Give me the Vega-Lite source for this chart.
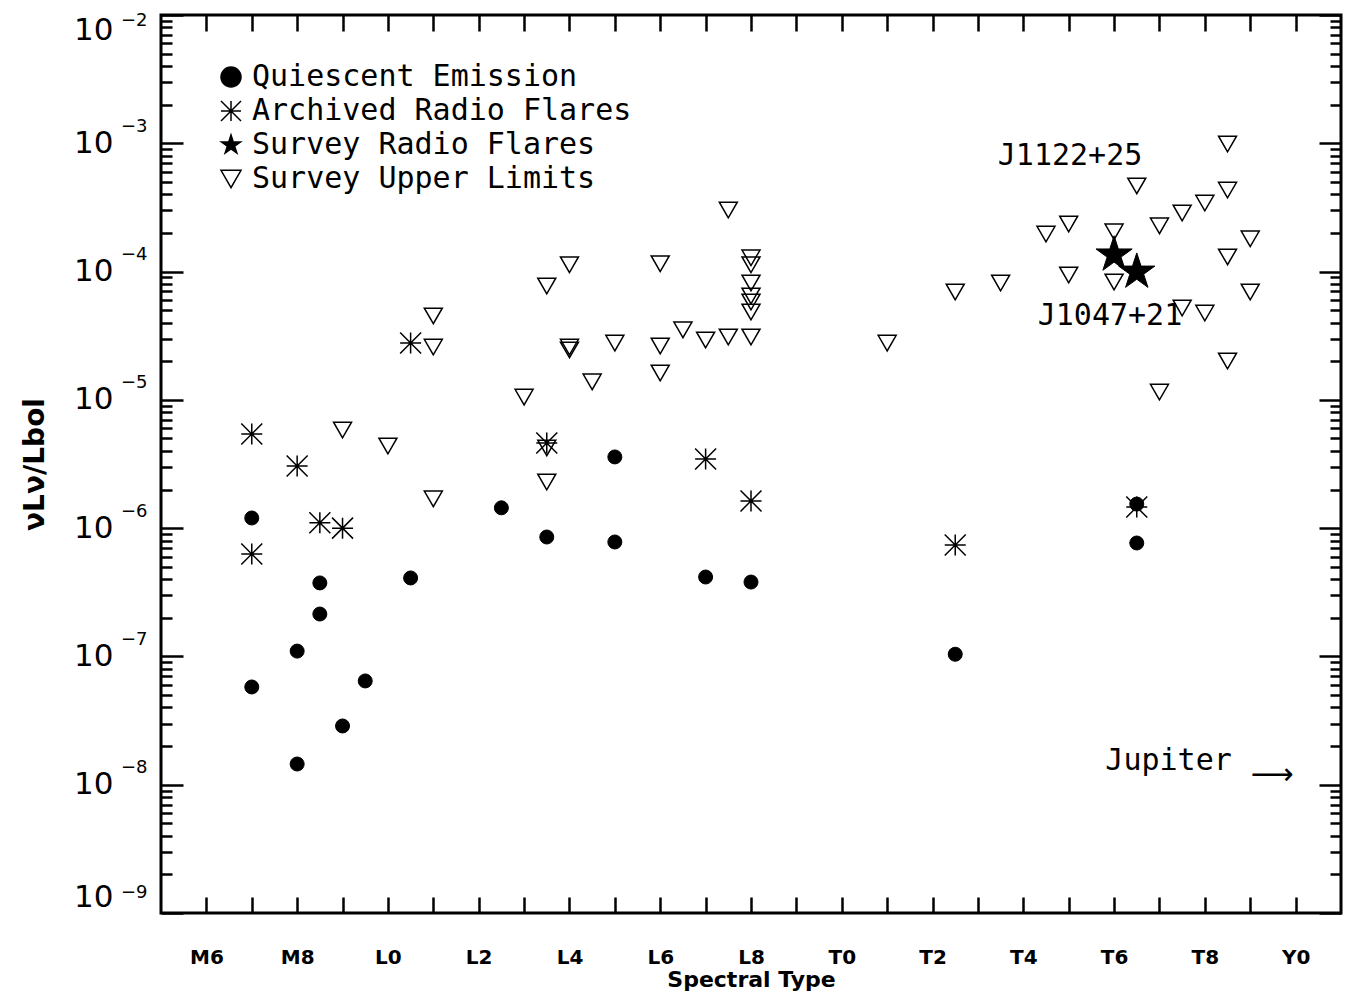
{
  "$schema": "https://vega.github.io/schema/vega-lite/v6.json",
  "width": 1180,
  "height": 898,
  "autosize": "none",
  "padding": {"left": 161, "top": 15, "right": 15, "bottom": 93},
  "background": "white",
  "config": {
    "view": {"stroke": "black", "strokeWidth": 3},
    "axis": {"domain": false, "grid": false, "tickColor": "black", "labelColor": "black", "titleColor": "black"},
    "legend": {"symbolStrokeColor": "black", "symbolStrokeWidth": 1.5, "symbolSize": 400, "labelFont": "DejaVu Sans Mono", "labelFontSize": 30, "labelColor": "black", "labelOffset": 6, "rowPadding": 4, "padding": 0, "labelLimit": 0}
  },
  "datasets": {
    "ul": [
      {"t": "Survey Upper Limits", "s": 9, "v": 5.82e-6},
      {"t": "Survey Upper Limits", "s": 10, "v": 4.37e-6},
      {"t": "Survey Upper Limits", "s": 11, "v": 4.51e-5},
      {"t": "Survey Upper Limits", "s": 11, "v": 2.58e-5},
      {"t": "Survey Upper Limits", "s": 11, "v": 1.69e-6},
      {"t": "Survey Upper Limits", "s": 13, "v": 1.05e-5},
      {"t": "Survey Upper Limits", "s": 13.5, "v": 7.72e-5},
      {"t": "Survey Upper Limits", "s": 13.5, "v": 4.22e-6},
      {"t": "Survey Upper Limits", "s": 13.5, "v": 2.29e-6},
      {"t": "Survey Upper Limits", "s": 14, "v": 1.13e-4},
      {"t": "Survey Upper Limits", "s": 14, "v": 2.58e-5},
      {"t": "Survey Upper Limits", "s": 14, "v": 2.45e-5},
      {"t": "Survey Upper Limits", "s": 14.5, "v": 1.38e-5},
      {"t": "Survey Upper Limits", "s": 15, "v": 2.77e-5},
      {"t": "Survey Upper Limits", "s": 16, "v": 1.15e-4},
      {"t": "Survey Upper Limits", "s": 16, "v": 2.63e-5},
      {"t": "Survey Upper Limits", "s": 16, "v": 1.62e-5},
      {"t": "Survey Upper Limits", "s": 16.5, "v": 3.51e-5},
      {"t": "Survey Upper Limits", "s": 17, "v": 2.93e-5},
      {"t": "Survey Upper Limits", "s": 17.5, "v": 3.02e-4},
      {"t": "Survey Upper Limits", "s": 17.5, "v": 3.09e-5},
      {"t": "Survey Upper Limits", "s": 18, "v": 1.28e-4},
      {"t": "Survey Upper Limits", "s": 18, "v": 1.13e-4},
      {"t": "Survey Upper Limits", "s": 18, "v": 8.15e-5},
      {"t": "Survey Upper Limits", "s": 18, "v": 6.45e-5},
      {"t": "Survey Upper Limits", "s": 18, "v": 5.79e-5},
      {"t": "Survey Upper Limits", "s": 18, "v": 4.84e-5},
      {"t": "Survey Upper Limits", "s": 18, "v": 3.09e-5},
      {"t": "Survey Upper Limits", "s": 21, "v": 2.77e-5},
      {"t": "Survey Upper Limits", "s": 22.5, "v": 6.93e-5},
      {"t": "Survey Upper Limits", "s": 23.5, "v": 8.15e-5},
      {"t": "Survey Upper Limits", "s": 24.5, "v": 1.96e-4},
      {"t": "Survey Upper Limits", "s": 25, "v": 2.35e-4},
      {"t": "Survey Upper Limits", "s": 25, "v": 9.4e-5},
      {"t": "Survey Upper Limits", "s": 26, "v": 2.04e-4},
      {"t": "Survey Upper Limits", "s": 26, "v": 8.29e-5},
      {"t": "Survey Upper Limits", "s": 26.5, "v": 4.65e-4},
      {"t": "Survey Upper Limits", "s": 27, "v": 2.27e-4},
      {"t": "Survey Upper Limits", "s": 27, "v": 1.15e-5},
      {"t": "Survey Upper Limits", "s": 27.5, "v": 2.86e-4},
      {"t": "Survey Upper Limits", "s": 27.5, "v": 5.2e-5},
      {"t": "Survey Upper Limits", "s": 28, "v": 3.42e-4},
      {"t": "Survey Upper Limits", "s": 28, "v": 4.75e-5},
      {"t": "Survey Upper Limits", "s": 28.5, "v": 9.87e-4},
      {"t": "Survey Upper Limits", "s": 28.5, "v": 4.32e-4},
      {"t": "Survey Upper Limits", "s": 28.5, "v": 1.3e-4},
      {"t": "Survey Upper Limits", "s": 28.5, "v": 2.01e-5},
      {"t": "Survey Upper Limits", "s": 29, "v": 1.8e-4},
      {"t": "Survey Upper Limits", "s": 29, "v": 6.93e-5}
    ],
    "arch": [
      {"t": "Archived Radio Flares", "s": 7, "v": 5.42e-6},
      {"t": "Archived Radio Flares", "s": 7, "v": 6.29e-7},
      {"t": "Archived Radio Flares", "s": 8, "v": 3.05e-6},
      {"t": "Archived Radio Flares", "s": 8.5, "v": 1.1e-6},
      {"t": "Archived Radio Flares", "s": 9, "v": 1.0e-6},
      {"t": "Archived Radio Flares", "s": 10.5, "v": 2.77e-5},
      {"t": "Archived Radio Flares", "s": 13.5, "v": 4.61e-6},
      {"t": "Archived Radio Flares", "s": 17, "v": 3.46e-6},
      {"t": "Archived Radio Flares", "s": 18, "v": 1.63e-6},
      {"t": "Archived Radio Flares", "s": 22.5, "v": 7.4e-7},
      {"t": "Archived Radio Flares", "s": 26.5, "v": 1.46e-6}
    ],
    "quiet": [
      {"t": "Quiescent Emission", "s": 7, "v": 1.2e-6},
      {"t": "Quiescent Emission", "s": 7, "v": 5.78e-8},
      {"t": "Quiescent Emission", "s": 8, "v": 1.1e-7},
      {"t": "Quiescent Emission", "s": 8, "v": 1.45e-8},
      {"t": "Quiescent Emission", "s": 8.5, "v": 3.74e-7},
      {"t": "Quiescent Emission", "s": 8.5, "v": 2.14e-7},
      {"t": "Quiescent Emission", "s": 9, "v": 2.87e-8},
      {"t": "Quiescent Emission", "s": 9.5, "v": 6.44e-8},
      {"t": "Quiescent Emission", "s": 10.5, "v": 4.09e-7},
      {"t": "Quiescent Emission", "s": 12.5, "v": 1.44e-6},
      {"t": "Quiescent Emission", "s": 13.5, "v": 8.53e-7},
      {"t": "Quiescent Emission", "s": 15, "v": 3.59e-6},
      {"t": "Quiescent Emission", "s": 15, "v": 7.8e-7},
      {"t": "Quiescent Emission", "s": 17, "v": 4.16e-7},
      {"t": "Quiescent Emission", "s": 18, "v": 3.8e-7},
      {"t": "Quiescent Emission", "s": 22.5, "v": 1.04e-7},
      {"t": "Quiescent Emission", "s": 26.5, "v": 1.54e-6},
      {"t": "Quiescent Emission", "s": 26.5, "v": 7.66e-7}
    ],
    "flare": [
      {"t": "Survey Radio Flares", "s": 26, "v": 1.35e-4},
      {"t": "Survey Radio Flares", "s": 26.5, "v": 9.93e-5}
    ],
    "annot": [
      {"s": 25.03, "v": 7.96e-4, "txt": "J1122+25"},
      {"s": 25.91, "v": 4.5e-5, "txt": "J1047+21"},
      {"s": 27.2, "v": 1.53e-8, "txt": "Jupiter"}
    ],
    "arrow": [
      {"s": 29.48, "v": 1.2e-8, "txt": "⟶"}
    ]
  },
  "layer": [
    {
      "data": {"name": "ul"},
      "mark": {"type": "point", "opacity": 0},
      "encoding": {
        "x": {"field": "s", "type": "quantitative", "scale": {"domain": [5, 31], "nice": false, "zero": false},
          "axis": {"orient": "bottom", "title": "Spectral Type", "values": [6,7,8,9,10,11,12,13,14,15,16,17,18,19,20,21,22,23,24,25,26,27,28,29,30],
            "labelExpr": "datum.value % 2 ? '' : (datum.value < 10 ? 'M' + datum.value : datum.value < 20 ? 'L' + (datum.value - 10) : datum.value < 30 ? 'T' + (datum.value - 20) : 'Y' + (datum.value - 30))",
            "tickSize": -16, "tickWidth": 2.5, "labelPadding": 50, "labelFont": "DejaVu Sans", "labelFontWeight": "bold", "labelFontSize": 20,
            "titleFont": "DejaVu Sans", "titleFontWeight": "bold", "titleFontSize": 22, "titlePadding": 2, "labelFlush": false}},
        "y": {"field": "v", "type": "quantitative", "scale": {"type": "log", "domain": [1e-9, 1e-2], "nice": false},
          "axis": {"orient": "left", "title": "νLν/Lbol", "values": [1e-9,1e-8,1e-7,1e-6,1e-5,1e-4,1e-3,1e-2],
            "labelExpr": "'10'",
            "tickSize": -22, "tickWidth": 2.5, "labelPadding": 70, "labelFont": "DejaVu Sans", "labelFontSize": 31, "labelFlush": true,
            "titleFont": "DejaVu Sans", "titleFontWeight": "bold", "titleFontSize": 28, "titlePadding": 24}}
      }
    },
    {
      "data": {"name": "ul"},
      "mark": {"type": "point", "opacity": 0},
      "encoding": {
        "x": {"field": "s", "type": "quantitative", "axis": null},
        "y": {"field": "v", "type": "quantitative",
          "axis": {"orient": "left", "title": null, "ticks": false, "values": [1e-9,1e-8,1e-7,1e-6,1e-5,1e-4,1e-3,1e-2],
            "labelExpr": "'−' + (-round(log(datum.value) / LN10))",
            "labelPadding": 14, "labelFont": "DejaVu Sans", "labelFontSize": 18, "labelFlush": false,
            "labelOffset": {"condition": [{"test": "datum.value > 0.005", "value": 5}, {"test": "datum.value < 2e-9", "value": -21}], "value": -17}}}
      }
    },
    {
      "data": {"name": "ul"},
      "mark": {"type": "point", "opacity": 0},
      "encoding": {
        "x": {"field": "s", "type": "quantitative",
          "axis": {"orient": "top", "title": null, "labels": false, "values": [6,7,8,9,10,11,12,13,14,15,16,17,18,19,20,21,22,23,24,25,26,27,28,29,30], "tickSize": -16, "tickWidth": 2.5}},
        "y": {"field": "v", "type": "quantitative",
          "axis": {"orient": "right", "title": null, "labels": false, "values": [1e-9,1e-8,1e-7,1e-6,1e-5,1e-4,1e-3,1e-2], "tickSize": -22, "tickWidth": 2.5}}
      }
    },
    {
      "data": {"name": "ul"},
      "mark": {"type": "point", "opacity": 0},
      "encoding": {
        "x": {"field": "s", "type": "quantitative", "axis": null},
        "y": {"field": "v", "type": "quantitative",
          "axis": {"orient": "left", "title": null, "labels": false, "tickSize": -11, "tickWidth": 2.5,
            "values": [2e-9,3e-9,4e-9,5e-9,6e-9,7e-9,8e-9,9e-9,2e-8,3e-8,4e-8,5e-8,6e-8,7e-8,8e-8,9e-8,2e-7,3e-7,4e-7,5e-7,6e-7,7e-7,8e-7,9e-7,2e-6,3e-6,4e-6,5e-6,6e-6,7e-6,8e-6,9e-6,2e-5,3e-5,4e-5,5e-5,6e-5,7e-5,8e-5,9e-5,2e-4,3e-4,4e-4,5e-4,6e-4,7e-4,8e-4,9e-4,2e-3,3e-3,4e-3,5e-3,6e-3,7e-3,8e-3,9e-3]}}
      }
    },
    {
      "data": {"name": "ul"},
      "mark": {"type": "point", "opacity": 0},
      "encoding": {
        "x": {"field": "s", "type": "quantitative", "axis": null},
        "y": {"field": "v", "type": "quantitative",
          "axis": {"orient": "right", "title": null, "labels": false, "tickSize": -11, "tickWidth": 2.5,
            "values": [2e-9,3e-9,4e-9,5e-9,6e-9,7e-9,8e-9,9e-9,2e-8,3e-8,4e-8,5e-8,6e-8,7e-8,8e-8,9e-8,2e-7,3e-7,4e-7,5e-7,6e-7,7e-7,8e-7,9e-7,2e-6,3e-6,4e-6,5e-6,6e-6,7e-6,8e-6,9e-6,2e-5,3e-5,4e-5,5e-5,6e-5,7e-5,8e-5,9e-5,2e-4,3e-4,4e-4,5e-4,6e-4,7e-4,8e-4,9e-4,2e-3,3e-3,4e-3,5e-3,6e-3,7e-3,8e-3,9e-3]}}
      }
    },
    {
      "data": {"name": "ul"},
      "mark": {"type": "point", "filled": false, "strokeWidth": 1.5, "opacity": 1, "size": 324},
      "encoding": {
        "x": {"field": "s", "type": "quantitative", "axis": null},
        "y": {"field": "v", "type": "quantitative", "axis": null},
        "shape": {"field": "t", "type": "nominal",
          "scale": {"domain": ["Quiescent Emission", "Archived Radio Flares", "Survey Radio Flares", "Survey Upper Limits"],
            "range": ["circle", "M-1,0L1,0M0,-1L0,1M-1,-1L1,1M-1,1L1,-1", "M0,-1L0.225,-0.309L0.951,-0.309L0.363,0.118L0.588,0.809L0,0.382L-0.588,0.809L-0.363,0.118L-0.951,-0.309L-0.225,-0.309Z", "triangle-down"]},
          "legend": {"title": null, "orient": "none", "legendX": 55, "legendY": 47}},
        "fill": {"field": "t", "type": "nominal",
          "scale": {"domain": ["Quiescent Emission", "Archived Radio Flares", "Survey Radio Flares", "Survey Upper Limits"],
            "range": ["black", "transparent", "black", "transparent"]},
          "legend": {"title": null, "orient": "none", "legendX": 55, "legendY": 47}},
        "stroke": {"field": "t", "type": "nominal",
          "scale": {"domain": ["Quiescent Emission", "Archived Radio Flares", "Survey Radio Flares", "Survey Upper Limits"],
            "range": ["black", "black", "black", "black"]},
          "legend": {"title": null, "orient": "none", "legendX": 55, "legendY": 47}}
      }
    },
    {
      "data": {"name": "arch"},
      "mark": {"type": "point", "filled": false, "strokeWidth": 1.5, "opacity": 1, "size": 441},
      "encoding": {
        "x": {"field": "s", "type": "quantitative", "axis": null},
        "y": {"field": "v", "type": "quantitative", "axis": null},
        "shape": {"field": "t", "type": "nominal"},
        "fill": {"field": "t", "type": "nominal"},
        "stroke": {"field": "t", "type": "nominal"}
      }
    },
    {
      "data": {"name": "quiet"},
      "mark": {"type": "point", "filled": false, "strokeWidth": 1, "opacity": 1, "size": 196},
      "encoding": {
        "x": {"field": "s", "type": "quantitative", "axis": null},
        "y": {"field": "v", "type": "quantitative", "axis": null},
        "shape": {"field": "t", "type": "nominal"},
        "fill": {"field": "t", "type": "nominal"},
        "stroke": {"field": "t", "type": "nominal"}
      }
    },
    {
      "data": {"name": "flare"},
      "mark": {"type": "point", "filled": false, "strokeWidth": 1, "opacity": 1, "size": 1450},
      "encoding": {
        "x": {"field": "s", "type": "quantitative", "axis": null},
        "y": {"field": "v", "type": "quantitative", "axis": null},
        "shape": {"field": "t", "type": "nominal"},
        "fill": {"field": "t", "type": "nominal"},
        "stroke": {"field": "t", "type": "nominal"}
      }
    },
    {
      "data": {"name": "annot"},
      "mark": {"type": "text", "font": "DejaVu Sans Mono", "fontSize": 30, "align": "center", "baseline": "middle", "color": "black"},
      "encoding": {
        "x": {"field": "s", "type": "quantitative", "axis": null},
        "y": {"field": "v", "type": "quantitative", "axis": null},
        "text": {"field": "txt"}
      }
    },
    {
      "data": {"name": "arrow"},
      "mark": {"type": "text", "font": "DejaVu Sans", "fontSize": 30, "align": "center", "baseline": "middle", "color": "black"},
      "encoding": {
        "x": {"field": "s", "type": "quantitative", "axis": null},
        "y": {"field": "v", "type": "quantitative", "axis": null},
        "text": {"field": "txt"}
      }
    }
  ],
  "resolve": {"axis": {"x": "independent", "y": "independent"}}
}
